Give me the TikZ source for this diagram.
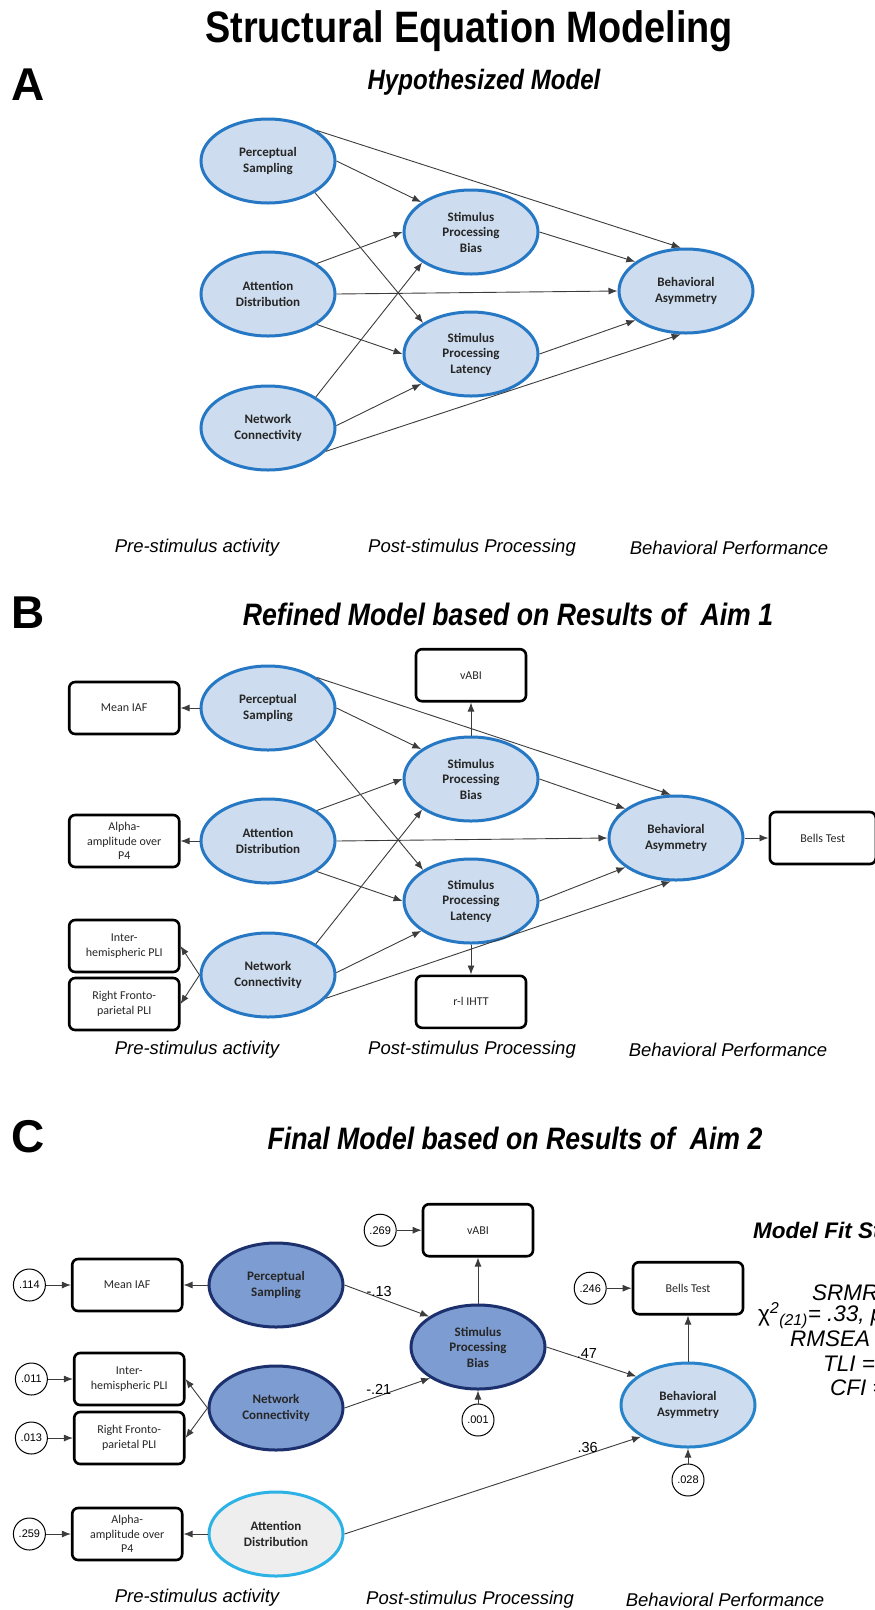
\documentclass[tikz,border=0pt]{standalone}
\usepackage{fontspec}
\setmainfont{Liberation Sans}
\newfontfamily\calibri{Carlito}
\newfontfamily\narrow[FakeStretch=0.86]{Liberation Sans}
\usetikzlibrary{shapes.geometric,arrows.meta,positioning}
\definecolor{lblue}{RGB}{205,220,238}
\definecolor{mblue}{RGB}{38,120,196}
\definecolor{dblue}{RGB}{125,156,209}
\definecolor{navy}{RGB}{27,48,108}
\definecolor{lcyan}{RGB}{45,178,230}
\definecolor{lgray}{RGB}{238,238,238}
\definecolor{agray}{RGB}{60,60,60}
\newcommand{\CoreModel}[3]{
  \node[latent] (ps-#1) at (268,161+#2) {Perceptual\\Sampling};
  \node[latent] (ad-#1) at (268,294+#2) {Attention\\Distribution};
  \node[latent] (nc-#1) at (268,428+#2) {Network\\Connectivity};
  \node[latent] (spb-#1) at (471,232+#2) {Stimulus\\Processing\\Bias};
  \node[latent] (spl-#1) at (471,354+#2) {Stimulus\\Processing\\Latency};
  \node[latent] (ba-#1) at (#3,291+#2) {Behavioral\\Asymmetry};
  \draw[link] (ps-#1.32) -- (ba-#1.97);
  \draw[link] (ps-#1.east) -- (spb-#1.149);
  \draw[link] (ps-#1.-34) -- (spl-#1.147);
  \draw[link] (ad-#1.32) -- (spb-#1.west);
  \draw[link] (ad-#1.east) -- (ba-#1.west);
  \draw[link] (ad-#1.-32) -- (spl-#1.west);
  \draw[link] (nc-#1.33) -- (spb-#1.212);
  \draw[link] (nc-#1.2) -- (spl-#1.211);
  \draw[link] (nc-#1.-22) -- (ba-#1.263);
  \draw[link] (spb-#1.east) -- (ba-#1.150);
  \draw[link] (spl-#1.east) -- (ba-#1.210);
}

\begin{document}
\begin{tikzpicture}[x=1pt,y=-1pt,
  latent/.style={ellipse,draw=mblue,fill=lblue,line width=3pt,
    minimum width=134pt,minimum height=84pt,inner sep=0pt,align=center,
    text=black!85,font=\calibri\bfseries\fontsize{13}{15.5}\selectfont},
  latentdark/.style={latent,draw=navy,fill=dblue},
  latentgray/.style={latent,draw=lcyan,fill=lgray},
  indicator/.style={rectangle,draw,rounded corners=6pt,line width=2.6pt,
    minimum width=110pt,minimum height=52pt,inner sep=2pt,align=center,
    text=black!85,font=\calibri\fontsize{12}{14.5}\selectfont},
  resid/.style={circle,draw,line width=1pt,minimum size=32pt,inner sep=0pt,
    font=\fontsize{11}{12}\selectfont},
  link/.style={draw=agray,line width=0.9pt,-{Latex[length=9pt,width=7pt]}},
  coef/.style={font=\fontsize{14.5}{16}\selectfont,inner sep=1pt},
  stage/.style={font=\itshape\fontsize{18.5}{22}\selectfont},
  heading/.style={font=\narrow\bfseries\itshape\fontsize{31}{36}\selectfont},
  panel/.style={font=\bfseries\fontsize{46}{52}\selectfont},
  fitstat/.style={anchor=west,inner sep=0pt,font=\itshape\fontsize{22.5}{25}\selectfont}]
  \clip (0,0) rectangle (875,1610);
  \node[font=\narrow\bfseries\fontsize{44}{50}\selectfont] (title) at (469,31)
    {Structural Equation Modeling};

  \node[panel] (lbl-a) at (28,85) {A};
  \node[heading,font=\narrow\bfseries\itshape\fontsize{28}{32}\selectfont]
    (head-a) at (484,82) {Hypothesized Model};
  \CoreModel{a}{0}{686}
  \node[stage] (pre-a) at (197,548) {Pre-stimulus activity};
  \node[stage] (post-a) at (472,548) {Post-stimulus Processing};
  \node[stage] (perf-a) at (729,548) {Behavioral Performance};

  \node[panel] (lbl-b) at (28,613) {B};
  \node[heading] (head-b) at (508,614) {Refined Model based on Results of\ \ Aim 1};
  \CoreModel{b}{547}{676}
  \node[indicator,left=19pt of ps-b] (iaf-b) {Mean IAF};
  \node[indicator,left=19pt of ad-b] (alpha-b) {Alpha-\\amplitude over\\P4};
  \node[indicator,left=19pt of nc-b,yshift=29pt] (inter-b) {Inter-\\hemispheric PLI};
  \node[indicator,left=19pt of nc-b,yshift=-29pt] (rfp-b) {Right Fronto-\\parietal PLI};
  \node[indicator,above=33pt of spb-b] (vabi-b) {vABI};
  \node[indicator,below=30pt of spl-b] (ihtt-b) {r-l IHTT};
  \node[indicator,right=24pt of ba-b,minimum width=106pt] (bells-b) {Bells Test};
  \draw[link] (ps-b.west) -- (iaf-b.east);
  \draw[link] (ad-b.west) -- (alpha-b.east);
  \draw[link] (nc-b.west) -- (inter-b.east);
  \draw[link] (nc-b.west) -- (rfp-b.east);
  \draw[link] (spb-b.north) -- (vabi-b.south);
  \draw[link] (spl-b.south) -- (ihtt-b.north);
  \draw[link] (ba-b.east) -- (bells-b.west);
  \node[stage] (pre-b) at (197,1050) {Pre-stimulus activity};
  \node[stage] (post-b) at (472,1050) {Post-stimulus Processing};
  \node[stage] (perf-b) at (728,1050) {Behavioral Performance};

  \node[panel] (lbl-c) at (28,1137) {C};
  \node[heading] (head-c) at (515,1138) {Final Model based on Results of\ \ Aim 2};
  \node[latentdark] (ps-c) at (276,1285) {Perceptual\\Sampling};
  \node[latentdark] (nc-c) at (276,1408) {Network\\Connectivity};
  \node[latentgray] (ad-c) at (276,1534) {Attention\\Distribution};
  \node[latentdark] (spb-c) at (478,1347) {Stimulus\\Processing\\Bias};
  \node[latent,draw=mblue!80!lcyan] (ba-c) at (688,1405) {Behavioral\\Asymmetry};
  \node[indicator,left=24pt of ps-c] (iaf-c) {Mean IAF};
  \node[indicator,left=22pt of nc-c,yshift=29pt] (inter-c) {Inter-\\hemispheric PLI};
  \node[indicator,left=22pt of nc-c,yshift=-30pt] (rfp-c) {Right Fronto-\\parietal PLI};
  \node[indicator,left=24pt of ad-c] (alpha-c) {Alpha-\\amplitude over\\P4};
  \node[indicator,above=46pt of spb-c] (vabi-c) {vABI};
  \node[indicator,above=46pt of ba-c] (bells-c) {Bells Test};
  \node[resid,left=25pt of iaf-c] (e-iaf) {.114};
  \node[resid,left=25pt of inter-c] (e-inter) {.011};
  \node[resid,left=25pt of rfp-c] (e-rfp) {.013};
  \node[resid,left=25pt of alpha-c] (e-alpha) {.259};
  \node[resid,left=25pt of vabi-c] (e-vabi) {.269};
  \node[resid,left=25pt of bells-c] (e-bells) {.246};
  \node[resid,below=13pt of spb-c] (e-spb) {.001};
  \node[resid,below=15pt of ba-c] (e-ba) {.028};
  \draw[link] (e-iaf) -- (iaf-c);
  \draw[link] (e-inter) -- (inter-c);
  \draw[link] (e-rfp) -- (rfp-c);
  \draw[link] (e-alpha) -- (alpha-c);
  \draw[link] (e-vabi) -- (vabi-c);
  \draw[link] (e-bells) -- (bells-c);
  \draw[link] (e-spb) -- (spb-c);
  \draw[link] (e-ba) -- (ba-c);
  \draw[link] (ps-c.west) -- (iaf-c.east);
  \draw[link] (nc-c.west) -- (inter-c.east);
  \draw[link] (nc-c.west) -- (rfp-c.east);
  \draw[link] (ad-c.west) -- (alpha-c.east);
  \draw[link] (spb-c.north) -- (vabi-c.south);
  \draw[link] (ba-c.north) -- (bells-c.south);
  \draw[link] (ps-c.east) -- node[coef,pos=0.41,above] (w-ps) {-.13} (spb-c.148);
  \draw[link] (nc-c.east) -- node[coef,pos=0.4,above] (w-nc) {-.21} (spb-c.213);
  \draw[link] (spb-c.east) -- node[coef,pos=0.45,above] (w-spb) {.47} (ba-c.151);
  \draw[link] (ad-c.east) -- node[coef,pos=0.82,above] (w-ad) {.36} (ba-c.214);
  \node[fitstat,font=\bfseries\itshape\fontsize{22.5}{25}\selectfont] (fit-head) at (753,1230) {Model Fit Statistics};
  \node[fitstat] (fit-srmr) at (812,1293) {SRMR};
  \node[fitstat] (fit-chi) at (758,1316) {{\upshape χ}\textsuperscript{2}\textsubscript{(21)}= .33, p};
  \node[fitstat] (fit-rmsea) at (790,1339) {RMSEA =};
  \node[fitstat] (fit-tli) at (823,1364) {TLI =};
  \node[fitstat] (fit-cfi) at (830,1388) {CFI =};
  \node[stage] (pre-c) at (197,1598) {Pre-stimulus activity};
  \node[stage] (post-c) at (470,1600) {Post-stimulus Processing};
  \node[stage] (perf-c) at (725,1600) {Behavioral Performance};
\end{tikzpicture}
\end{document}
